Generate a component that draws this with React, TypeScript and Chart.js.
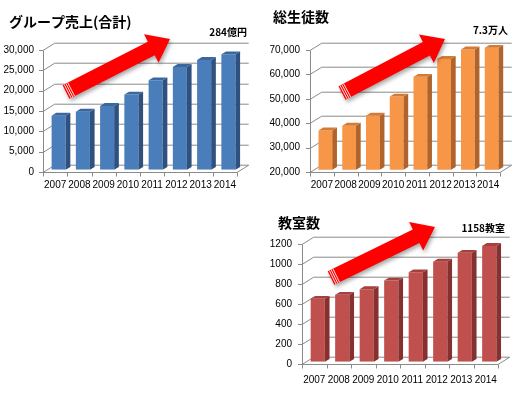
import { useEffect, useRef } from "react";
import { Chart, registerables } from "chart.js";

Chart.register(...registerables);

// ---- data ----
const years = ["2007", "2008", "2009", "2010", "2011", "2012", "2013", "2014"];
const salesValues = [13300, 14300, 15700, 18500, 22000, 25300, 27000, 28400];
const studentValues = [36100, 38100, 42200, 50000, 58100, 65400, 69300, 73000];
const classroomValues = [630, 670, 726, 812, 895, 1001, 1090, 1158];

const salesAxis = [0, 30000, 5000];
const studentAxis = [20000, 70000, 10000];
const classroomAxis = [0, 1200, 200];

const salesTitle = "グループ売上(合計)";
const studentTitle = "総生徒数";
const classroomTitle = "教室数";
const salesNote = "284億円";
const studentNote = "7.3万人";
const classroomNote = "1158教室";

// ---- look ----
const DX = 11.7;
const DY = 7.3;
const BAR_SHIFT = 0.3;
const BAR_DEPTH = 0.4;
const GRID = "#8a8a8a";
const TICK_FONT = "'Liberation Sans', Arial, sans-serif";
const CJK_FONT = "'Noto Sans CJK JP', 'Noto Sans', sans-serif";

type Panel = {
  key: string;
  left: number;
  top: number;
  width: number;
  height: number;
  area: { left: number; top: number; right: number; bottom: number };
  values: number[];
  axis: number[];
  commas: boolean;
  yPad: number;
  xPad: number;
  colors: { front: string; side: string; top: string };
  title: string;
  titlePos: [number, number];
  note: string;
  notePos: [number, number];
  arrow: [number, number, number, number];
};

const panels: Panel[] = [
  {
    key: "sales",
    left: 0,
    top: 0,
    width: 260,
    height: 200,
    area: { left: 43, top: 50, right: 237, bottom: 172 },
    values: salesValues,
    axis: salesAxis,
    commas: true,
    yPad: 9,
    xPad: 7,
    colors: { front: "#4a7ebb", side: "#2f5180", top: "#3c679e" },
    title: salesTitle,
    titlePos: [9, 22],
    note: salesNote,
    notePos: [247, 32],
    arrow: [66, 92, 170, 39],
  },
  {
    key: "students",
    left: 260,
    top: 0,
    width: 260,
    height: 200,
    area: { left: 50, top: 50, right: 240, bottom: 172 },
    values: studentValues,
    axis: studentAxis,
    commas: true,
    yPad: 10,
    xPad: 7,
    colors: { front: "#f79646", side: "#b0632a", top: "#d27b37" },
    title: studentTitle,
    titlePos: [13, 17],
    note: studentNote,
    notePos: [248, 30],
    arrow: [82, 93, 185, 39],
  },
  {
    key: "classrooms",
    left: 260,
    top: 200,
    width: 260,
    height: 200,
    area: { left: 42, top: 44, right: 238, bottom: 164 },
    values: classroomValues,
    axis: classroomAxis,
    commas: false,
    yPad: 10,
    xPad: 10,
    colors: { front: "#c0504d", side: "#86312f", top: "#a5403e" },
    title: classroomTitle,
    titlePos: [18, 23],
    note: classroomNote,
    notePos: [245, 28],
    arrow: [71, 78, 175, 27],
  },
];

function drawArrow(ctx: CanvasRenderingContext2D, x0: number, y0: number, x1: number, y1: number) {
  const len = Math.hypot(x1 - x0, y1 - y0);
  const ux = (x1 - x0) / len;
  const uy = (y1 - y0) / len;
  const nx = -uy;
  const ny = ux;
  const s = 7.5;
  const h = 16;
  const hl = 21;
  const p = (t: number, w: number): [number, number] => [x0 + ux * t + nx * w, y0 + uy * t + ny * w];
  const pts = [p(0, s), p(len - hl, s), p(len - hl, h), p(len, 0), p(len - hl, -h), p(len - hl, -s), p(0, -s)];
  ctx.save();
  ctx.shadowColor = "rgba(0,0,0,0.35)";
  ctx.shadowBlur = 4;
  ctx.shadowOffsetX = 1.5;
  ctx.shadowOffsetY = 2.5;
  ctx.fillStyle = "#ff0000";
  ctx.beginPath();
  pts.forEach(([a, b], i) => (i ? ctx.lineTo(a, b) : ctx.moveTo(a, b)));
  ctx.closePath();
  ctx.fill();
  ctx.restore();
  // stripes near the tail
  ctx.save();
  ctx.strokeStyle = "#ffffff";
  ctx.lineWidth = 0.9;
  [1.8, 3.8, 5.8].forEach((t) => {
    const [a1, b1] = p(t, s);
    const [a2, b2] = p(t, -s);
    ctx.beginPath();
    ctx.moveTo(a1, b1);
    ctx.lineTo(a2, b2);
    ctx.stroke();
  });
  ctx.restore();
}

function makeFramePlugin(panel: Panel) {
  return {
    id: "frame3d",
    beforeDatasetsDraw(chart: any) {
      const { ctx, chartArea: a, scales } = chart;
      const ys = scales.y;
      ctx.save();
      ctx.strokeStyle = GRID;
      ctx.lineWidth = 1;
      // back wall grid, left wall connectors and axis ticks
      ys.ticks.forEach((_t: any, i: number) => {
        const py = Math.round(ys.getPixelForTick(i)) + 0.5;
        ctx.beginPath();
        ctx.moveTo(a.left - 4, py);
        ctx.lineTo(a.left, py);
        ctx.lineTo(a.left + DX, py - DY);
        ctx.lineTo(a.right + DX, py - DY);
        ctx.stroke();
      });
      const lx = Math.round(a.left) + 0.5;
      const by = Math.round(a.bottom) + 0.5;
      ctx.beginPath();
      ctx.moveTo(lx, Math.round(a.top) + 0.5);
      ctx.lineTo(lx, by);
      ctx.lineTo(a.right, by);
      ctx.lineTo(a.right + DX, by - DY);
      ctx.stroke();
      // category boundary ticks on the floor edge
      const n = chart.data.labels.length;
      for (let i = 0; i <= n; i++) {
        const px = Math.round(a.left + ((a.right - a.left) * i) / n) + 0.5;
        ctx.beginPath();
        ctx.moveTo(px, by);
        ctx.lineTo(px, by + 4);
        ctx.stroke();
      }
      ctx.restore();
      // bars stand a little behind the front plane
      ctx.save();
      ctx.translate(DX * BAR_SHIFT, -DY * BAR_SHIFT);
    },
    afterDatasetsDraw(chart: any) {
      const { ctx, chartArea: a } = chart;
      const meta = chart.getDatasetMeta(0);
      const bx = DX * BAR_DEPTH;
      const by = DY * BAR_DEPTH;
      meta.data.forEach((el: any) => {
        const { x, y, base, width } = el.getProps(["x", "y", "base", "width"], true);
        const l = x - width / 2;
        const r = x + width / 2;
        const t = Math.max(y, a.top);
        const b = Math.min(base, a.bottom);
        ctx.fillStyle = panel.colors.side;
        ctx.beginPath();
        ctx.moveTo(r, t);
        ctx.lineTo(r + bx, t - by);
        ctx.lineTo(r + bx, b - by);
        ctx.lineTo(r, b);
        ctx.closePath();
        ctx.fill();
        ctx.fillStyle = panel.colors.top;
        ctx.beginPath();
        ctx.moveTo(l, t);
        ctx.lineTo(l + bx, t - by);
        ctx.lineTo(r + bx, t - by);
        ctx.lineTo(r, t);
        ctx.closePath();
        ctx.fill();
      });
      ctx.restore();
    },
    afterDraw(chart: any) {
      const { ctx } = chart;
      drawArrow(ctx, ...panel.arrow);
      ctx.save();
      ctx.fillStyle = "#000";
      ctx.textBaseline = "middle";
      ctx.font = `bold 14px ${CJK_FONT}`;
      ctx.textAlign = "left";
      ctx.fillText(panel.title, panel.titlePos[0], panel.titlePos[1]);
      ctx.font = `bold 10px ${CJK_FONT}`;
      ctx.textAlign = "right";
      ctx.fillText(panel.note, panel.notePos[0], panel.notePos[1]);
      ctx.restore();
    },
  };
}

function BarPanel({ panel }: { panel: Panel }) {
  const ref = useRef<HTMLCanvasElement | null>(null);
  useEffect(() => {
    if (!ref.current) return;
    const { area, width, height } = panel;
    const chart = new Chart(ref.current, {
      type: "bar",
      data: {
        labels: years,
        datasets: [
          {
            data: panel.values,
            backgroundColor: panel.colors.front,
            borderWidth: 0,
            categoryPercentage: 1,
            barPercentage: 0.58,
          },
        ],
      },
      options: {
        responsive: false,
        animation: false,
        devicePixelRatio: 1,
        layout: { padding: { top: area.top, right: width - area.right, left: 0, bottom: 0 } },
        plugins: { legend: { display: false }, tooltip: { enabled: false }, title: { display: false } },
        scales: {
          x: {
            grid: { display: false, drawTicks: false },
            border: { display: false },
            ticks: {
              color: "#000",
              padding: panel.xPad,
              maxRotation: 0,
              autoSkip: false,
              font: { family: TICK_FONT, size: 10 },
            },
            afterFit: (s: any) => {
              s.height = height - area.bottom;
            },
          },
          y: {
            min: panel.axis[0],
            max: panel.axis[1],
            grid: { display: false, drawTicks: false },
            border: { display: false },
            ticks: {
              stepSize: panel.axis[2],
              color: "#000",
              padding: panel.yPad,
              font: { family: TICK_FONT, size: 10 },
              callback: (v: any) => (panel.commas ? Number(v).toLocaleString("en-US") : String(v)),
            },
            afterFit: (s: any) => {
              s.width = area.left;
            },
          },
        },
      },
      plugins: [makeFramePlugin(panel)],
    });
    return () => chart.destroy();
  }, [panel]);
  return (
    <div style={{ position: "absolute", left: panel.left, top: panel.top, width: panel.width, height: panel.height }}>
      <canvas ref={ref} width={panel.width} height={panel.height} style={{ display: "block" }} />
    </div>
  );
}

export default function App() {
  return (
    <div style={{ position: "absolute", left: 0, top: 0, width: 520, height: 400, background: "#fff" }}>
      {panels.map((p) => (
        <BarPanel key={p.key} panel={p} />
      ))}
    </div>
  );
}
